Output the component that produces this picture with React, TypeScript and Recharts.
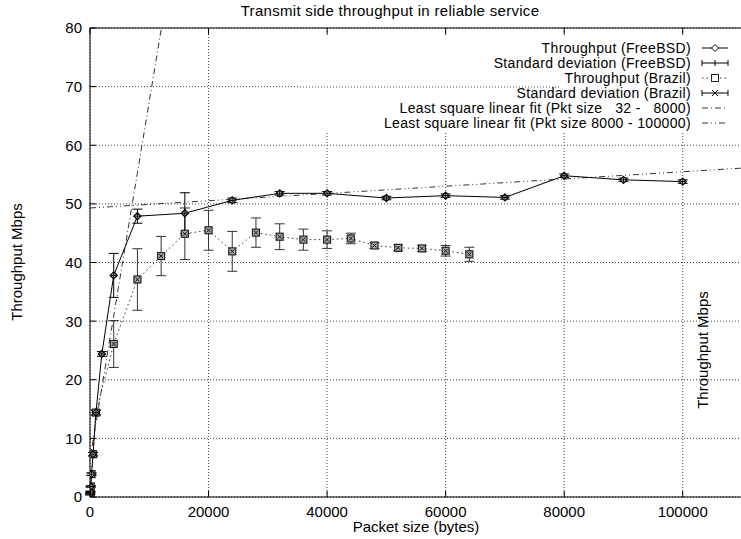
import React from 'react';
import { ComposedChart, Line, XAxis, YAxis, CartesianGrid, ErrorBar, ReferenceLine } from 'recharts';

// ---- data ----
const freebsdSizes = [32, 64, 128, 256, 512, 1000, 2000, 4000, 8000, 16000, 24000, 32000, 40000, 50000, 60000, 70000, 80000, 90000, 100000];
const freebsdTput = [0.45, 0.85, 1.8, 3.9, 7.3, 14.4, 24.4, 37.8, 47.9, 48.4, 50.6, 51.8, 51.8, 51.0, 51.4, 51.1, 54.8, 54.1, 53.8];
const freebsdSd = [0.1, 0.1, 0.1, 0.2, 0.3, 0.4, 0.4, 3.75, 1.2, 3.5, 0.4, 0.3, 0.3, 0.3, 0.3, 0.3, 0.3, 0.3, 0.3];

const brazilSizes = [32, 64, 128, 256, 512, 1000, 4000, 8000, 12000, 16000, 20000, 24000, 28000, 32000, 36000, 40000, 44000, 48000, 52000, 56000, 60000, 64000];
const brazilTput = [0.5, 0.9, 1.8, 3.9, 7.3, 14.4, 26.1, 37.1, 41.1, 44.9, 45.5, 41.9, 45.1, 44.4, 43.9, 43.9, 44.1, 42.9, 42.5, 42.4, 42.0, 41.4];
const brazilSd = [0.1, 0.1, 0.1, 0.2, 0.3, 0.4, 4.0, 5.25, 3.35, 4.4, 3.4, 3.4, 2.5, 2.2, 1.8, 1.5, 0.9, 0.5, 0.5, 0.5, 0.9, 1.2];

const fit1X = [0, 12050];
const fit1Y = [6.5, 80];
const fit2X = [0, 110000];
const fit2Y = [49.3, 56.1];

const xTicks = [0, 20000, 40000, 60000, 80000, 100000];
const yTicks = [0, 10, 20, 30, 40, 50, 60, 70, 80];

const title = 'Transmit side throughput in reliable service';
const xLabel = 'Packet size (bytes)';
const yLabel = 'Throughput Mbps';
const legendLabels = [
  'Throughput (FreeBSD)',
  'Standard deviation (FreeBSD)',
  'Throughput (Brazil)',
  'Standard deviation (Brazil)',
  'Least square linear fit (Pkt size   32 -   8000)',
  'Least square linear fit (Pkt size 8000 - 100000)',
];

const freebsdData = freebsdSizes.map((x, i) => ({ x, y: freebsdTput[i], sd: freebsdSd[i] }));
const brazilData = brazilSizes.map((x, i) => ({ x, y: brazilTput[i], sd: brazilSd[i] }));
const fit1Data = fit1X.map((x, i) => ({ x, y: fit1Y[i] }));
const fit2Data = fit2X.map((x, i) => ({ x, y: fit2Y[i] }));

// ---- layout ----
const W = 750;
const H = 539;
const PLOT_TOP = 28;
const PLOT_BOTTOM = 497;
const PLOT_LEFT = 90;
const FONT = '"Liberation Sans", Arial, Helvetica, sans-serif';
const FS = 15;
const LEG_FS = 14;

const FIT1_DASH = '6 3 1 3';
const FIT2_DASH = '6 3 1 3 1 3';
const BRAZIL_DASH = '1.5 3';

const DiamondDot = (p: any) => {
  const { cx, cy } = p;
  if (cx == null || cy == null) return <g key={p.key} />;
  const r = 3.5;
  return (
    <g key={p.key ?? `fd-${cx}-${cy}`}>
      <path d={`M${cx},${cy - r}L${cx + r},${cy}L${cx},${cy + r}L${cx - r},${cy}Z`} fill="#ddd" stroke="#000" strokeWidth={1.3} />
      <line x1={cx - 2.5} x2={cx + 2.5} y1={cy} y2={cy} stroke="#000" strokeWidth={1} />
      <line x1={cx} x2={cx} y1={cy - 2.5} y2={cy + 2.5} stroke="#000" strokeWidth={1} />
    </g>
  );
};

const SquareDot = (p: any) => {
  const { cx, cy } = p;
  if (cx == null || cy == null) return <g key={p.key} />;
  const r = 3.5;
  return (
    <g key={p.key ?? `bd-${cx}-${cy}`}>
      <rect x={cx - r} y={cy - r} width={2 * r} height={2 * r} fill="#aaa" stroke="#222" strokeWidth={1.2} />
      <line x1={cx - 2} x2={cx + 2} y1={cy - 2} y2={cy + 2} stroke="#000" strokeWidth={0.9} />
      <line x1={cx - 2} x2={cx + 2} y1={cy + 2} y2={cy - 2} stroke="#000" strokeWidth={0.9} />
    </g>
  );
};

const XTick = (p: any) => {
  const { x, y, payload } = p;
  return (
    <g>
      <line x1={x} x2={x} y1={PLOT_BOTTOM} y2={PLOT_BOTTOM - 6} stroke="#000" />
      <line x1={x} x2={x} y1={PLOT_TOP} y2={PLOT_TOP + 6} stroke="#000" />
      <text x={x} y={y} dy="0.71em" textAnchor="middle" fontSize={FS} fontFamily={FONT} fill="#000">
        {payload.value}
      </text>
    </g>
  );
};

const YTick = (p: any) => {
  const { x, y, payload } = p;
  return (
    <g>
      <line x1={PLOT_LEFT} x2={PLOT_LEFT + 6} y1={y} y2={y} stroke="#000" />
      <text x={x} y={y} dy="0.36em" textAnchor="end" fontSize={FS} fontFamily={FONT} fill="#000">
        {payload.value}
      </text>
    </g>
  );
};

const LEG_TEXT_X = 691;
const LEG_S1 = 702;
const LEG_S2 = 728;
const LEG_Y0 = 48;
const LEG_DY = 15;

const LegendSample = ({ i, y }: { i: number; y: number }) => {
  const mid = (LEG_S1 + LEG_S2) / 2;
  if (i === 0)
    return (
      <g>
        <line x1={LEG_S1} x2={LEG_S2} y1={y} y2={y} stroke="#000" />
        <path d={`M${mid},${y - 3.5}L${mid + 3.5},${y}L${mid},${y + 3.5}L${mid - 3.5},${y}Z`} fill="#fff" stroke="#000" />
      </g>
    );
  if (i === 1 || i === 3)
    return (
      <g>
        <line x1={LEG_S1} x2={LEG_S2} y1={y} y2={y} stroke="#000" />
        <line x1={LEG_S1} x2={LEG_S1} y1={y - 3} y2={y + 3} stroke="#000" />
        <line x1={LEG_S2} x2={LEG_S2} y1={y - 3} y2={y + 3} stroke="#000" />
        {i === 1 ? (
          <line x1={mid} x2={mid} y1={y - 3} y2={y + 3} stroke="#000" />
        ) : (
          <g>
            <line x1={mid - 3} x2={mid + 3} y1={y - 3} y2={y + 3} stroke="#000" />
            <line x1={mid - 3} x2={mid + 3} y1={y + 3} y2={y - 3} stroke="#000" />
          </g>
        )}
      </g>
    );
  if (i === 2)
    return (
      <g>
        <line x1={LEG_S1} x2={LEG_S2} y1={y} y2={y} stroke="#333" strokeDasharray={BRAZIL_DASH} />
        <rect x={mid - 3.5} y={y - 3.5} width={7} height={7} fill="#fff" stroke="#222" />
      </g>
    );
  return <line x1={LEG_S1} x2={LEG_S2} y1={y} y2={y} stroke="#333" strokeDasharray={i === 4 ? FIT1_DASH : FIT2_DASH} />;
};

export default function App() {
  return (
    <div style={{ position: 'absolute', left: 0, top: 0, width: 741, height: 539, overflow: 'hidden', background: '#fff', fontFamily: FONT }}>
      <ComposedChart width={W} height={H} margin={{ top: PLOT_TOP, right: 8, bottom: 0, left: 0 }}>
        <CartesianGrid stroke="#444" strokeDasharray="1 2" />
        <XAxis
          dataKey="x"
          type="number"
          domain={[0, 110000]}
          ticks={xTicks}
          height={H - PLOT_BOTTOM}
          tickSize={0}
          tickMargin={9}
          tickLine={false}
          axisLine={{ stroke: '#000' }}
          tick={<XTick />}
          allowDataOverflow
        />
        <YAxis
          type="number"
          domain={[0, 80]}
          ticks={yTicks}
          width={PLOT_LEFT}
          tickSize={0}
          tickMargin={8}
          tickLine={false}
          axisLine={{ stroke: '#000' }}
          tick={<YTick />}
          allowDataOverflow
        />
        <ReferenceLine y={80} stroke="#000" />
        <Line data={fit1Data} dataKey="y" type="linear" stroke="#333" strokeWidth={1} strokeDasharray={FIT1_DASH} dot={false} isAnimationActive={false} />
        <Line data={fit2Data} dataKey="y" type="linear" stroke="#333" strokeWidth={1} strokeDasharray={FIT2_DASH} dot={false} isAnimationActive={false} />
        <Line data={brazilData} dataKey="y" type="linear" stroke="#333" strokeWidth={1} strokeDasharray={BRAZIL_DASH} dot={<SquareDot />} isAnimationActive={false}>
          <ErrorBar dataKey="sd" direction="y" width={5} stroke="#333" strokeWidth={1} />
        </Line>
        <Line data={freebsdData} dataKey="y" type="linear" stroke="#000" strokeWidth={1} dot={<DiamondDot />} isAnimationActive={false}>
          <ErrorBar dataKey="sd" direction="y" width={5} stroke="#000" strokeWidth={1} />
        </Line>
      </ComposedChart>
      <svg width={741} height={539} style={{ position: 'absolute', left: 0, top: 0, pointerEvents: 'none' }}>
        <text x={390} y={16} textAnchor="middle" fontSize={FS} fontFamily={FONT} fill="#000" letterSpacing={0.3}>{title}</text>
        <text x={416} y={527} dy="0.36em" textAnchor="middle" fontSize={FS} fontFamily={FONT} fill="#000">{xLabel}</text>
        <text x={17} y={262} dy="0.36em" textAnchor="middle" fontSize={FS} fontFamily={FONT} fill="#000" transform="rotate(-90 17 262)">{yLabel}</text>
        <text x={703} y={350} dy="0.36em" textAnchor="middle" fontSize={FS} fontFamily={FONT} fill="#000" transform="rotate(-90 703 350)">{yLabel}</text>
        <rect x={300} y={35} width={441} height={96} fill="#fff" />
        <line x1={300} x2={560} y1={87} y2={87} stroke="#444" strokeDasharray="1 2" />
        {legendLabels.map((t, i) => {
          const y = LEG_Y0 + i * LEG_DY;
          return (
            <g key={t}>
              <text x={LEG_TEXT_X} y={y} dy="0.36em" textAnchor="end" fontSize={LEG_FS} letterSpacing={0.35} fontFamily={FONT} fill="#000" style={{ whiteSpace: 'pre' }}>{t}</text>
              <LegendSample i={i} y={y} />
            </g>
          );
        })}
      </svg>
    </div>
  );
}
